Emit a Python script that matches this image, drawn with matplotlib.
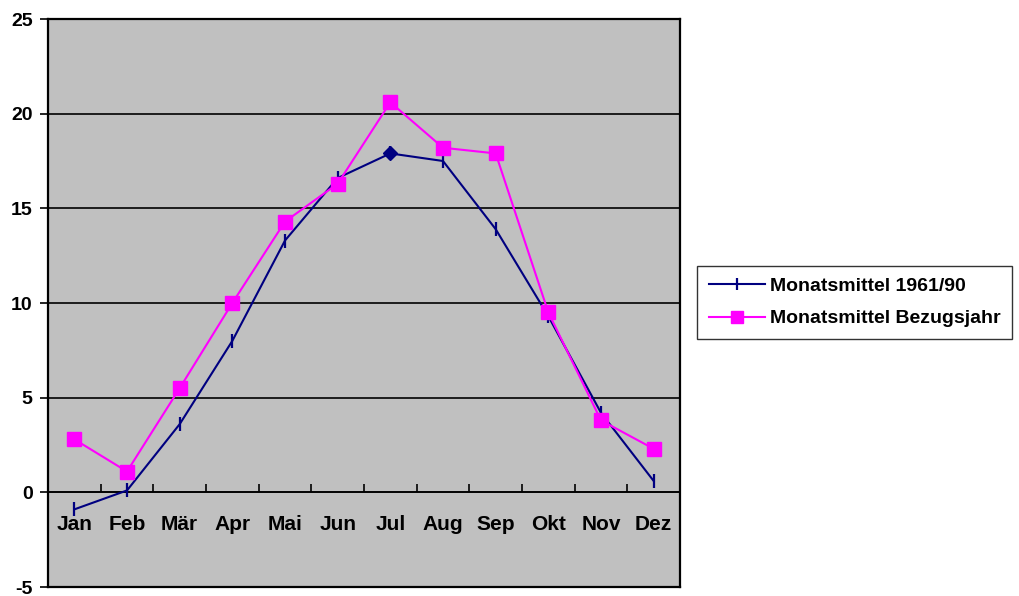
import matplotlib
matplotlib.use("Agg")
import matplotlib.pyplot as plt
import numpy as np

plt.rcParams['font.family'] = ['Liberation Sans', 'DejaVu Sans']
plt.rcParams['font.weight'] = 'bold'

monate = ["Jan", "Feb", "Mär", "Apr", "Mai", "Jun", "Jul", "Aug", "Sep", "Okt", "Nov", "Dez"]
mittel_6190 = [-0.9, 0.1, 3.6, 8.0, 13.3, 16.6, 17.9, 17.5, 13.9, 9.3, 4.2, 0.6]
bezugsjahr = [2.8, 1.1, 5.5, 10.0, 14.3, 16.3, 20.6, 18.2, 17.9, 9.5, 3.8, 2.3]
y_ticks = [-5, 0, 5, 10, 15, 20, 25]

fig = plt.figure(figsize=(10.2, 5.96), dpi=100)
ax = fig.add_axes([48/1020, 1-587/596, 632/1020, 568/596])
ax.set_facecolor('#C0C0C0')

x = np.arange(len(monate))

# horizontal grid lines
for yv in y_ticks[1:]:
    ax.axhline(yv, color='black', lw=1.2, zorder=1)

ax.plot(x, mittel_6190, color='#000080', lw=1.5, marker='|', markersize=10,
        markeredgewidth=1.6, label='Monatsmittel 1961/90', zorder=3)
# Juli als Raute hervorgehoben
ax.plot(x[6], mittel_6190[6], color='#000080', marker='D', markersize=7,
        linestyle='none', zorder=4)
ax.plot(x, bezugsjahr, color='#FF00FF', lw=1.5, marker='s', markersize=10,
        markeredgecolor='#FF00FF', label='Monatsmittel Bezugsjahr', zorder=3)

ax.set_xlim(-0.5, 11.5)
ax.set_ylim(-5, 25)

ax.spines['bottom'].set_position(('data', 0))
ax.spines['bottom'].set_linewidth(1.2)
for s in ['left', 'right', 'top']:
    ax.spines[s].set_linewidth(1.6)
# unterer Rahmen
ax.plot([0, 1], [0, 0], transform=ax.transAxes, color='black', lw=1.6, clip_on=False)

ax.set_xticks(x)
ax.set_xticklabels(monate, fontsize=15, fontweight='bold')
ax.set_xticks(np.arange(0.5, 11.5, 1), minor=True)
ax.tick_params(axis='x', which='major', length=0, pad=16)
ax.tick_params(axis='x', which='minor', direction='in', length=6, width=1.2)

ax.set_yticks(y_ticks)
ax.set_yticklabels([str(v) for v in y_ticks], fontsize=14, fontweight='bold')
ax.tick_params(axis='y', direction='out', length=6, width=1.2, pad=5)

leg = fig.legend(loc='upper left', bbox_to_anchor=(697/1020, 1-266/596),
                 fontsize=14, frameon=True, fancybox=False, edgecolor='black',
                 handlelength=2.9, borderpad=0.6, labelspacing=0.75, handletextpad=0.25,
                 borderaxespad=0, markerscale=0.9)
leg.get_frame().set_linewidth(1.0)
for t in leg.get_texts():
    t.set_fontweight('bold')

fig.savefig('out.png', dpi=100)
